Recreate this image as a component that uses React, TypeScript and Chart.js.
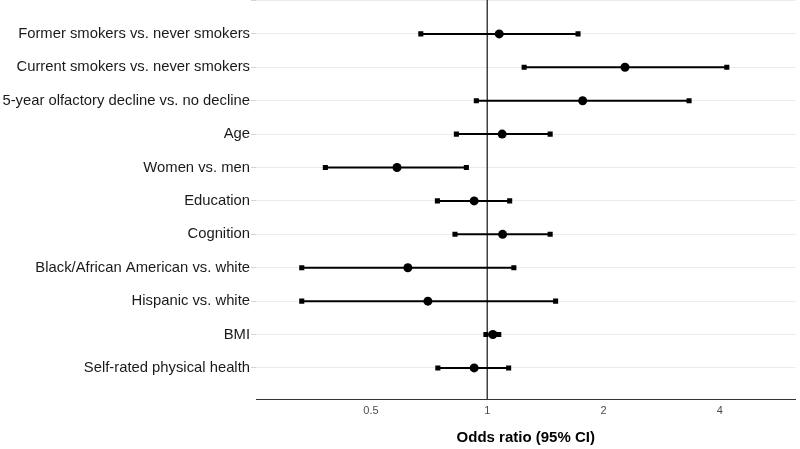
import React, { useEffect, useRef } from "react";
import { Chart, registerables } from "chart.js";
Chart.register(...registerables);

const categories = [
  "Former smokers vs. never smokers",
  "Current smokers vs. never smokers",
  "5-year olfactory decline vs. no decline",
  "Age",
  "Women vs. men",
  "Education",
  "Cognition",
  "Black/African American vs. white",
  "Hispanic vs. white",
  "BMI",
  "Self-rated physical health",
];
const estimates = [1.074, 2.273, 1.766, 1.093, 0.584, 0.925, 1.096, 0.623, 0.702, 1.034, 0.925];
const lowerCI = [0.673, 1.246, 0.937, 0.832, 0.381, 0.743, 0.825, 0.331, 0.331, 0.992, 0.745];
const upperCI = [1.718, 4.17, 3.33, 1.455, 0.883, 1.143, 1.455, 1.172, 1.503, 1.071, 1.136];
const xTicks = [0.5, 1, 2, 4];
const xTitle = "Odds ratio (95% CI)";
const refValue = 1;

const FONT = "'Liberation Sans', Arial, sans-serif";

export default function App() {
  const ref = useRef<HTMLCanvasElement>(null);
  useEffect(() => {
    document.body.style.margin = "0";
    const canvas = ref.current!;
    const datasets: any[] = categories.map((c, i) => ({
      type: "line",
      label: c,
      data: [
        { x: lowerCI[i], y: i + 1 },
        { x: upperCI[i], y: i + 1 },
      ],
      borderColor: "#000",
      borderWidth: 2,
      pointStyle: "rect",
      pointRadius: 3.6,
      pointBackgroundColor: "#000",
      pointBorderWidth: 0,
      showLine: true,
      order: 2,
    }));
    datasets.push({
      type: "scatter",
      label: "OR",
      data: estimates.map((e, i) => ({ x: e, y: i + 1 })),
      pointRadius: 4.5,
      pointBackgroundColor: "#000",
      pointBorderWidth: 0,
      order: 1,
    });

    const refLine = {
      id: "refLine",
      beforeDatasetsDraw(chart: any) {
        const { ctx, chartArea, scales } = chart;
        const x = scales.x.getPixelForValue(refValue);
        ctx.save();
        ctx.strokeStyle = "#333";
        ctx.lineWidth = 1.4;
        ctx.beginPath();
        ctx.moveTo(x, chartArea.top - 4);
        ctx.lineTo(x, chartArea.bottom);
        ctx.stroke();
        ctx.restore();
      },
    };

    const chart = new Chart(canvas, {
      type: "scatter",
      data: { datasets },
      plugins: [refLine],
      options: {
        animation: false,
        responsive: false,
        maintainAspectRatio: false,
        layout: { padding: { top: 0, right: 3, bottom: 0, left: 0 } },
        plugins: { legend: { display: false }, tooltip: { enabled: false } },
        scales: {
          x: {
            type: "logarithmic",
            min: 0.252,
            max: 6.28,
            afterBuildTicks: (s: any) => {
              s.ticks = xTicks.map((v) => ({ value: v }));
            },
            afterFit: (s: any) => {
              s.height = 50;
            },
            ticks: {
              callback: (v: any) => String(v),
              font: { family: FONT, size: 11 },
              color: "#4d4d4d",
              padding: 5,
              maxRotation: 0,
            },
            grid: { display: false, drawTicks: false },
            border: { display: true, color: "#333", width: 1 },
            title: {
              display: true,
              text: xTitle,
              font: { family: FONT, size: 15, weight: "bold" },
              color: "#000",
              padding: { top: 4, bottom: 2 },
            },
          },
          y: {
            type: "linear",
            reverse: true,
            min: 0,
            max: 11.93,
            afterBuildTicks: (s: any) => {
              s.ticks = [0, ...categories.map((_, i) => i + 1)].map((v) => ({ value: v }));
            },
            afterFit: (s: any) => {
              s.width = 256;
              s.paddingTop = 0;
              s.paddingBottom = 0;
            },
            ticks: {
              callback: (v: any) => (v >= 1 ? categories[v - 1] : ""),
              font: { family: FONT, size: 14.8 },
              color: "#1a1a1a",
              padding: 1,
              autoSkip: false,
            },
            grid: {
              color: "#ebebeb",
              lineWidth: 1,
              tickColor: "#d4d4d4",
              tickLength: 5,
            },
            border: { display: false },
          },
        },
      },
    });
    return () => chart.destroy();
  }, []);
  return (
    <div style={{ position: "relative", width: 800, height: 449, overflow: "hidden", background: "#fff" }}>
      <canvas
        ref={ref}
        width={800}
        height={453}
        style={{ position: "absolute", left: 0, top: -4, width: 800, height: 453 }}
      />
    </div>
  );
}
